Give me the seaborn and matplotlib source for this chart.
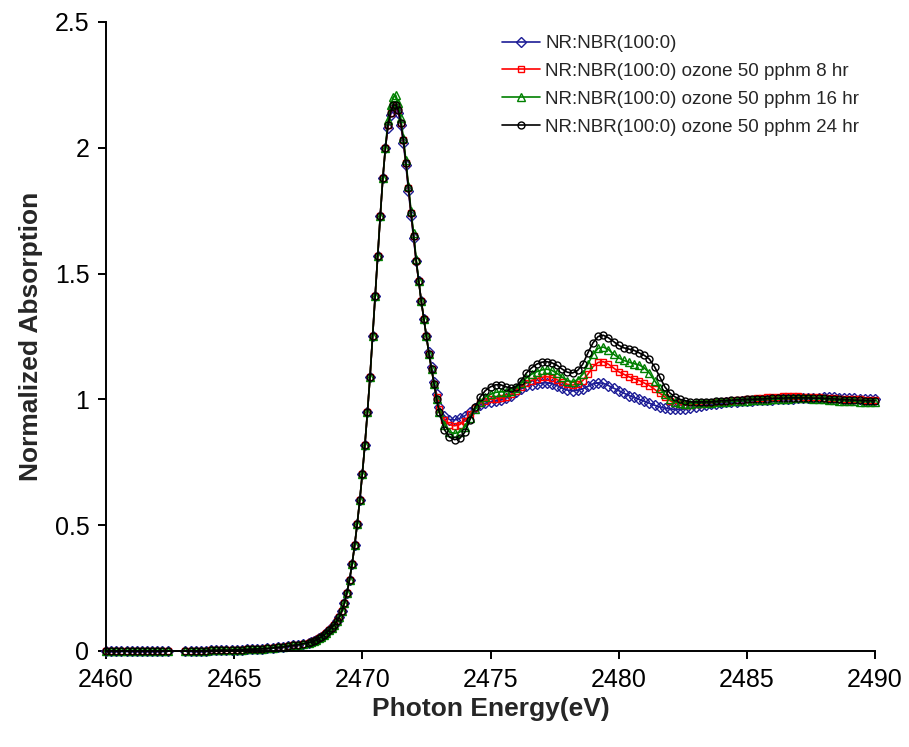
import numpy as np
import pandas as pd
import matplotlib
matplotlib.use("Agg")
import matplotlib.pyplot as plt
from matplotlib.ticker import FixedLocator, FixedFormatter
import seaborn as sns

# ---------------- data ----------------
series_names = [
    "NR:NBR(100:0)",
    "NR:NBR(100:0) ozone 50 pphm 8 hr",
    "NR:NBR(100:0) ozone 50 pphm 16 hr",
    "NR:NBR(100:0) ozone 50 pphm 24 hr",
]

# shared pre-edge / edge part (all four spectra coincide here)
x_pre_a = np.round(np.arange(2460.0, 2462.41, 0.2), 2)          # 13 points
y_pre_a = [0.0] * 13
x_pre_b = np.round(np.arange(2463.1, 2467.91, 0.2), 2)          # 25 points
y_pre_b = [0.000, 0.000, 0.000, 0.001, 0.001,
           0.002, 0.002, 0.003, 0.003, 0.004,
           0.005, 0.005, 0.006, 0.007, 0.008,
           0.009, 0.010, 0.012, 0.014, 0.016,
           0.019, 0.022, 0.025, 0.029, 0.033]
x_edge = np.round(np.arange(2468.0, 2470.91, 0.1), 2)           # 30 points
y_edge = [0.036, 0.040, 0.045, 0.050, 0.056, 0.064, 0.072, 0.082, 0.093, 0.104,
          0.118, 0.135, 0.158, 0.190, 0.232, 0.283, 0.345, 0.420, 0.505, 0.600,
          0.705, 0.820, 0.950, 1.090, 1.250, 1.410, 1.570, 1.730, 1.880, 2.000]

# white line peak region, per spectrum
x_peak = np.round(np.arange(2471.0, 2473.01, 0.1), 2)           # 21 points
peak_blue = [2.08, 2.13, 2.16, 2.16, 2.14, 2.09, 2.02, 1.93, 1.83, 1.73, 1.64,
             1.55, 1.47, 1.39, 1.32, 1.25, 1.19, 1.13, 1.07, 1.02, 0.97]
peak_red = [2.09, 2.14, 2.17, 2.17, 2.15, 2.10, 2.03, 1.94, 1.84, 1.74, 1.65,
            1.55, 1.47, 1.39, 1.32, 1.25, 1.18, 1.12, 1.06, 1.01, 0.96]
peak_green = [2.11, 2.17, 2.20, 2.21, 2.18, 2.12, 2.04, 1.95, 1.85, 1.75, 1.66,
              1.56, 1.47, 1.39, 1.32, 1.25, 1.18, 1.12, 1.06, 1.00, 0.95]
peak_black = [2.09, 2.14, 2.17, 2.17, 2.15, 2.10, 2.03, 1.94, 1.84, 1.74, 1.65,
              1.55, 1.47, 1.39, 1.32, 1.25, 1.18, 1.12, 1.06, 1.00, 0.95]

# post-edge region, per spectrum
x_post = np.round(np.arange(2473.2, 2490.01, 0.2), 2)           # 85 points
post_blue = [0.935, 0.920, 0.918, 0.925, 0.935,   # 2473.2-2474.0
             0.950, 0.965, 0.978, 0.985, 0.990,   # -2475.0
             0.995, 0.998, 1.005, 1.015, 1.030,   # -2476.0
             1.042, 1.052, 1.058, 1.062, 1.065,   # -2477.0
             1.066, 1.063, 1.055, 1.045, 1.037,   # -2478.0
             1.034, 1.036, 1.042, 1.052, 1.062,   # -2479.0
             1.066, 1.064, 1.055, 1.045, 1.035,   # -2480.0
             1.025, 1.015, 1.008, 1.000, 0.993,   # -2481.0
             0.985, 0.977, 0.970, 0.965, 0.962,   # -2482.0
             0.960, 0.960, 0.962, 0.965, 0.968,   # -2483.0
             0.972, 0.976, 0.980, 0.983, 0.986,   # -2484.0
             0.988, 0.990, 0.991, 0.993, 0.994,   # -2485.0
             0.995, 0.996, 0.997, 0.998, 0.999,   # -2486.0
             1.000, 1.001, 1.002, 1.003, 1.004,   # -2487.0
             1.005, 1.006, 1.007, 1.007, 1.008,   # -2488.0
             1.008, 1.008, 1.007, 1.006, 1.005,   # -2489.0
             1.004, 1.003, 1.002, 1.001, 1.000]   # -2490.0
post_red = [0.920, 0.900, 0.895, 0.900, 0.915,
            0.940, 0.965, 0.985, 0.995, 1.000,
            1.003, 1.005, 1.010, 1.020, 1.035,
            1.050, 1.065, 1.075, 1.082, 1.088,
            1.090, 1.087, 1.078, 1.068, 1.060,
            1.057, 1.062, 1.075, 1.100, 1.130,
            1.147, 1.150, 1.140, 1.125, 1.110,
            1.100, 1.090, 1.082, 1.075, 1.065,
            1.055, 1.040, 1.025, 1.010, 0.995,
            0.985, 0.980, 0.978, 0.978, 0.980,
            0.982, 0.984, 0.986, 0.988, 0.990,
            0.992, 0.994, 0.996, 0.998, 1.000,
            1.002, 1.004, 1.006, 1.008, 1.010,
            1.011, 1.012, 1.012, 1.012, 1.012,
            1.011, 1.010, 1.009, 1.008, 1.006,
            1.005, 1.004, 1.003, 1.002, 1.001,
            1.000, 1.000, 0.999, 0.999, 0.999]
post_green = [0.900, 0.870, 0.865, 0.870, 0.890,
              0.925, 0.960, 0.990, 1.010, 1.020,
              1.028, 1.030, 1.030, 1.035, 1.045,
              1.065, 1.085, 1.100, 1.110, 1.117,
              1.120, 1.115, 1.103, 1.088, 1.075,
              1.070, 1.078, 1.100, 1.140, 1.180,
              1.203, 1.208, 1.198, 1.180, 1.165,
              1.155, 1.148, 1.142, 1.137, 1.125,
              1.105, 1.075, 1.045, 1.020, 1.000,
              0.990, 0.985, 0.983, 0.983, 0.984,
              0.985, 0.986, 0.987, 0.988, 0.990,
              0.991, 0.992, 0.993, 0.994, 0.995,
              0.996, 0.997, 0.998, 0.999, 1.000,
              1.001, 1.002, 1.003, 1.004, 1.004,
              1.004, 1.004, 1.003, 1.002, 1.000,
              0.998, 0.996, 0.995, 0.994, 0.993,
              0.992, 0.991, 0.990, 0.990, 0.990]
post_black = [0.880, 0.850, 0.840, 0.845, 0.870,
              0.920, 0.970, 1.010, 1.035, 1.050,
              1.058, 1.058, 1.050, 1.045, 1.050,
              1.075, 1.105, 1.125, 1.140, 1.148,
              1.150, 1.145, 1.135, 1.120, 1.108,
              1.105, 1.115, 1.140, 1.185, 1.225,
              1.250, 1.255, 1.245, 1.230, 1.215,
              1.205, 1.200, 1.195, 1.185, 1.175,
              1.160, 1.130, 1.090, 1.050, 1.025,
              1.010, 1.000, 0.995, 0.990, 0.990,
              0.990, 0.990, 0.990, 0.992, 0.995,
              0.995, 0.997, 0.998, 0.999, 1.000,
              1.000, 1.001, 1.002, 1.003, 1.004,
              1.005, 1.005, 1.006, 1.006, 1.006,
              1.006, 1.006, 1.005, 1.005, 1.004,
              1.003, 1.002, 1.000, 0.999, 0.998,
              0.997, 0.996, 0.995, 0.995, 0.995]

peaks = [peak_blue, peak_red, peak_green, peak_black]
posts = [post_blue, post_red, post_green, post_black]

x_ticks = [2460, 2465, 2470, 2475, 2480, 2485, 2490]
x_tick_labels = ["2460", "2465", "2470", "2475", "2480", "2485", "2490"]
y_ticks = [0, 0.5, 1, 1.5, 2, 2.5]
y_tick_labels = ["0", "0.5", "1", "1.5", "2", "2.5"]

# ---------------- style ----------------
colors = ["#1c1c96", "#ff0000", "#008000", "#000000"]
markers = ["D", "s", "^", "o"]
msizes = [4.6, 5.0, 5.4, 5.0]

sns.set_style("white")
plt.rcParams["font.family"] = ["Liberation Sans", "DejaVu Sans"]

fig = plt.figure(figsize=(9.09, 7.47), dpi=100)
ax = fig.add_axes([106 / 909, 1 - 651 / 747, (875 - 106) / 909, (651 - 22) / 747])

x_all = np.concatenate([x_pre_a, x_pre_b, x_edge, x_peak, x_post])
for name, pk, po, c, m, ms in zip(series_names, peaks, posts, colors, markers, msizes):
    y_all = np.concatenate([y_pre_a, y_pre_b, y_edge, pk, po])
    df = pd.DataFrame({"x": x_all, "y": y_all})
    sns.lineplot(data=df, x="x", y="y", ax=ax, sort=False, estimator=None,
                 color=c, linewidth=1.2, marker=m, markersize=ms,
                 markerfacecolor="none", markeredgecolor=c, markeredgewidth=1.0,
                 label=name, clip_on=False)

ax.set_xlim(2460, 2490)
ax.set_ylim(0, 2.5)
ax.xaxis.set_major_locator(FixedLocator(x_ticks))
ax.xaxis.set_major_formatter(FixedFormatter(x_tick_labels))
ax.yaxis.set_major_locator(FixedLocator(y_ticks))
ax.yaxis.set_major_formatter(FixedFormatter(y_tick_labels))

for side in ["top", "right"]:
    ax.spines[side].set_visible(False)
for side in ["left", "bottom"]:
    ax.spines[side].set_color("black")
    ax.spines[side].set_linewidth(1.4)

ax.tick_params(axis="both", which="major", direction="out", length=6, width=1.4,
               colors="black", labelsize=18, pad=6)
ax.tick_params(axis="x", bottom=True)
ax.tick_params(axis="y", left=True)

ax.set_xlabel("Photon Energy(eV)", fontsize=19, fontweight="bold", labelpad=4)
ax.set_ylabel("Normalized Absorption", fontsize=19, fontweight="bold", labelpad=8)

leg = ax.legend(loc="upper left", bbox_to_anchor=(502 / 909, 1 - 35 / 747),
                bbox_transform=fig.transFigure, frameon=False, fontsize=13.5,
                handlelength=2.0, handletextpad=0.3, labelspacing=0.57,
                borderaxespad=0, borderpad=0)

fig.savefig("out.png", dpi=100)
